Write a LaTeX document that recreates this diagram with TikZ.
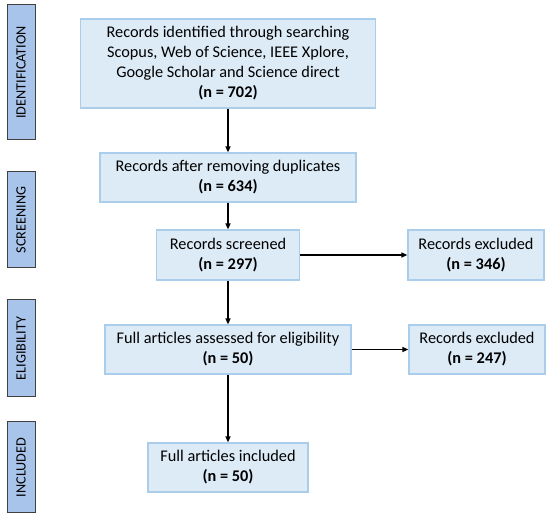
\documentclass[tikz,border=0pt]{standalone}
\usepackage{fontspec}
\setmainfont{Carlito}
\usetikzlibrary{arrows.meta, positioning}

\definecolor{boxfill}{HTML}{DDEBF7}
\definecolor{boxline}{HTML}{A9CDEB}
\definecolor{phasefill}{HTML}{A9C4EB}
\definecolor{phaseline}{HTML}{404040}

\begin{document}
\begin{tikzpicture}[
		x=1pt, y=-1pt,
		box/.style={draw=boxline, fill=boxfill, line width=1.2pt, rectangle, align=center, inner sep=2pt, font=\fontsize{16.3}{20}\selectfont},
		phase/.style={draw=phaseline, fill=phasefill, line width=1pt, rectangle, rotate=90, minimum height=28pt, inner sep=0pt, font=\fontsize{14.2}{16}\selectfont},
		arrow/.style={-{Triangle[length=6pt, width=5pt]}, line width=1.4pt}
		]
		\useasboundingbox (0,0) rectangle (550,518);
		
		% Phases
		\node[phase, minimum width=135pt] (ident) at (21,72.5) {IDENTIFICATION};
		\node[phase, minimum width=96pt] (screen) at (21,220) {SCREENING};
		\node[phase, minimum width=97pt] (elig) at (21,348.5) {ELIGIBILITY};
		\node[phase, minimum width=91pt] (incl) at (21,467.5) {INCLUDED};
		
		% Boxes
		\node[box, minimum width=295pt, minimum height=89pt] (found) at (228,63.5) {Records identified through searching\\ Scopus, Web of Science, IEEE Xplore,\\ Google Scholar and Science direct\\ \textbf{(n = 702)}};
		
		\node[box, minimum width=256pt, minimum height=49pt] (dedup) at (228,177.5) {Records after removing duplicates\\ \textbf{(n = 634)}};
		
		\node[box, minimum width=143pt, minimum height=50pt] (screened) at (228,255) {Records screened\\ \textbf{(n = 297)}};
		
		\node[box, minimum width=136pt, minimum height=50pt] (excl1) at (476,255) {Records excluded\\ \textbf{(n = 346)}};
		
		\node[box, minimum width=246pt, minimum height=49pt] (assessed) at (228,349.5) {Full articles assessed for eligibility\\ \textbf{(n = 50)}};
		
		\node[box, minimum width=136pt, minimum height=49pt] (excl2) at (477,349.5) {Records excluded\\ \textbf{(n = 247)}};
		
		\node[box, minimum width=160pt, minimum height=49pt] (included) at (228,467.5) {Full articles included\\ \textbf{(n = 50)}};
		
		% Arrows
		\draw[arrow] (found) -- (dedup);
		\draw[arrow] (dedup) -- (screened);
		\draw[arrow] (screened) -- (assessed);
		\draw[arrow] (assessed) -- (included);
		\draw[arrow] (screened) -- (excl1);
		\draw[arrow] (assessed) -- (excl2);
		
	\end{tikzpicture}
\end{document}
